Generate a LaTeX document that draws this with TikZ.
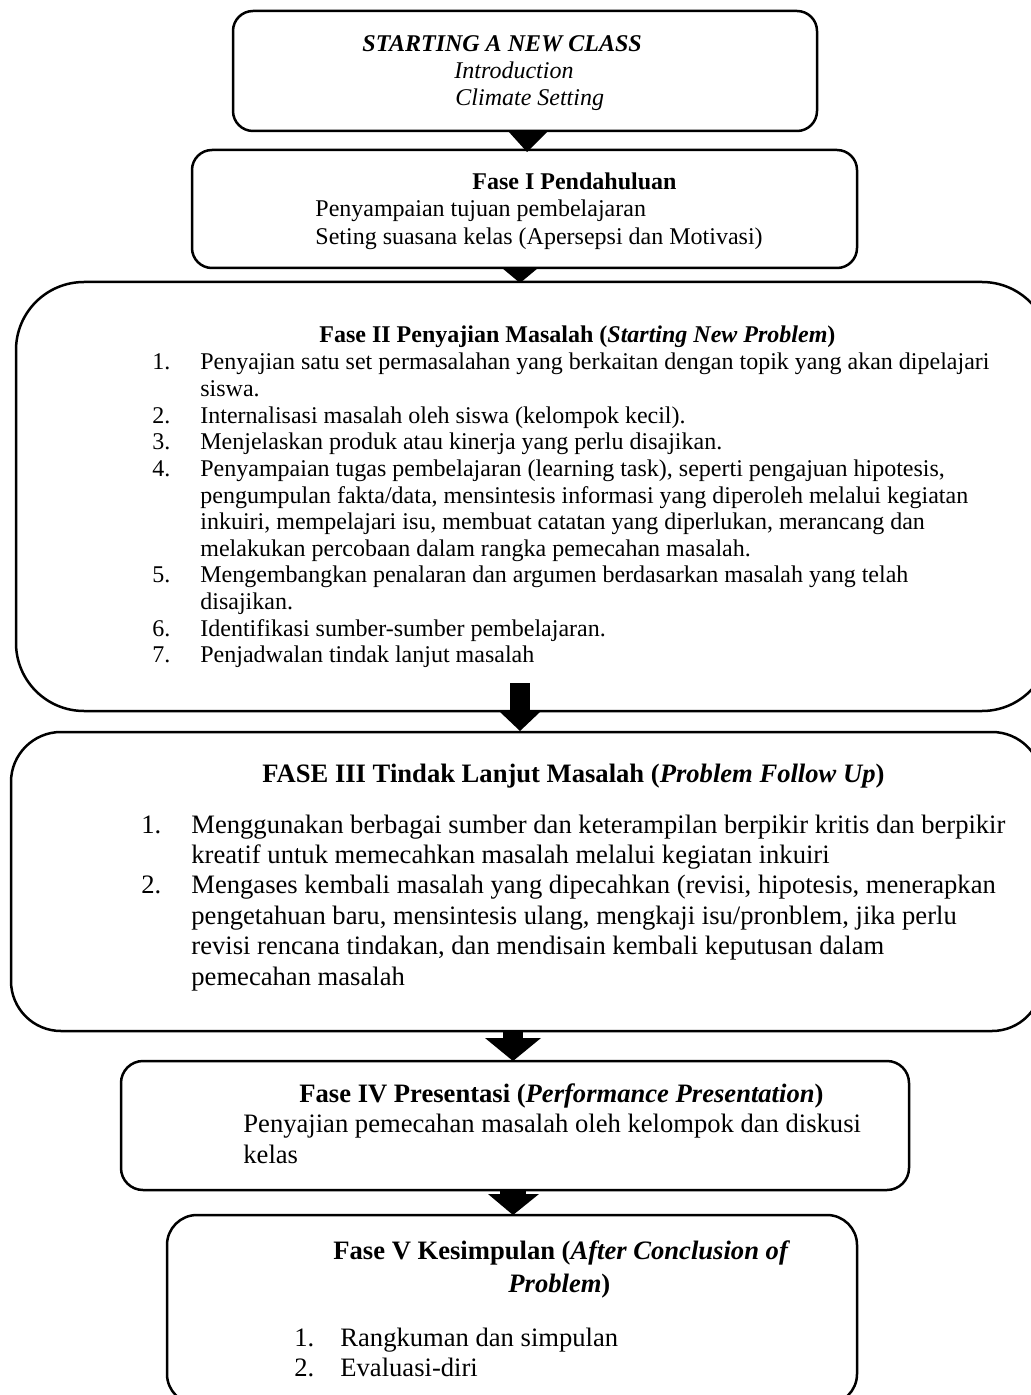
\documentclass[tikz,border=0pt]{standalone}
\usepackage{fontspec}
\setmainfont{Liberation Serif}
\usetikzlibrary{calc}
\newcommand\fsmallx{\fontsize{12}{13.3}\selectfont}
\newcommand\flargex{\fontsize{13.3}{15.2}\selectfont}
\begin{document}
\begin{tikzpicture}[x=0.5pt,y=-0.5pt,
  boxx/.style={draw, line width=1.25pt, anchor=north west, inner sep=0pt, outer sep=0pt},
  tsm/.style={anchor=base west, inner sep=0pt, font=\fsmallx},
  tlg/.style={anchor=base west, inner sep=0pt, font=\flargex},
  blk/.style={fill=black}]
\path[use as bounding box] (0,0) rectangle (1031,1395);
\clip (0,0) rectangle (1031,1395);
% boxes
\node[boxx, rounded corners=10pt, minimum width=292pt, minimum height=60pt] (b0) at (233,11) {};
\node[boxx, rounded corners=10pt, minimum width=332.5pt, minimum height=59pt] (b1) at (192,150) {};
\node[boxx, rounded corners=34pt, minimum width=517pt, minimum height=214.5pt] (b2) at (16,282) {};
\node[boxx, rounded corners=25pt, minimum width=515.5pt, minimum height=149.5pt] (b3) at (11,732) {};
\node[boxx, rounded corners=11pt, minimum width=394pt, minimum height=64.5pt] (b4) at (121,1061) {};
\node[boxx, rounded corners=15pt, minimum width=345pt, minimum height=94.5pt] (b5) at (167,1215) {};
% arrows
\fill[blk] ($(b0.south)+(-17,0)$) -- ($(b0.south)+(23,0)$) -- ($(b1.north)+(2.5,2)$) -- cycle;
\fill[blk] ($(b1.south)+(-22.5,0)$) -- ($(b1.south)+(13.5,0)$) -- ($(b2.north)+(-13,1)$) -- cycle;
\fill[blk] ($(b2.south)+(-23,-28)$) rectangle ($(b2.south)+(-3,1)$);
\fill[blk] ($(b2.south)+(-33,1)$) -- ($(b2.south)+(7,1)$) -- ($(b3.north)+(-6.5,-1)$) -- cycle;
\fill[blk] ($(b3.south)+(-23.5,0)$) rectangle ($(b3.south)+(-3.5,7)$);
\fill[blk] ($(b3.south)+(-41.5,7)$) -- ($(b3.south)+(14.5,7)$) -- ($(b4.north)+(-2,0)$) -- cycle;
\fill[blk] ($(b4.south)+(-15,0)$) rectangle ($(b4.south)+(11,4)$);
\fill[blk] ($(b4.south)+(-27,4)$) -- ($(b4.south)+(24,4)$) -- ($(b5.north)+(1,0)$) -- cycle;
% box 0
\node[tsm] (t0a) at (362,52) {\textbf{\textit{STARTING A NEW CLASS}}};
\node[tsm] (t0b) at (454,79) {\textit{Introduction}};
\node[tsm] (t0c) at (455,106) {\textit{Climate Setting}};
% box 1
\node[tsm] (t1a) at (472,190) {\textbf{Fase I Pendahuluan}};
\node[tsm] (t1b) at (315,217) {Penyampaian tujuan pembelajaran};
\node[tsm] (t1c) at (315,245) {Seting suasana kelas (Apersepsi dan Motivasi)};
% box 2
\node[tsm] (t2h) at (319,343) {\textbf{Fase II Penyajian Masalah (\textit{Starting New Problem})}};
\node[tsm] (n21) at (152,370) {1.};
\node[tsm] (l21) at (200,370) {Penyajian satu set permasalahan yang berkaitan dengan topik yang akan dipelajari};
\node[tsm] (l22) at (200,396.6) {siswa.};
\node[tsm] (n22) at (152,423.2) {2.};
\node[tsm] (l23) at (200,423.2) {Internalisasi masalah oleh siswa (kelompok kecil).};
\node[tsm] (n23) at (152,449.8) {3.};
\node[tsm] (l24) at (200,449.8) {Menjelaskan produk atau kinerja yang perlu disajikan.};
\node[tsm] (n24) at (152,476.4) {4.};
\node[tsm] (l25) at (200,476.4) {Penyampaian tugas pembelajaran (learning task), seperti pengajuan hipotesis,};
\node[tsm] (l26) at (200,503) {pengumpulan fakta/data, mensintesis informasi yang diperoleh melalui kegiatan};
\node[tsm] (l27) at (200,529.6) {inkuiri, mempelajari isu, membuat catatan yang diperlukan, merancang dan};
\node[tsm] (l28) at (200,556.2) {melakukan percobaan dalam rangka pemecahan masalah.};
\node[tsm] (n25) at (152,582.8) {5.};
\node[tsm] (l29) at (200,582.8) {Mengembangkan penalaran dan argumen berdasarkan masalah yang telah};
\node[tsm] (l2a) at (200,609.4) {disajikan.};
\node[tsm] (n26) at (152,636) {6.};
\node[tsm] (l2b) at (200,636) {Identifikasi sumber-sumber pembelajaran.};
\node[tsm] (n27) at (152,662.6) {7.};
\node[tsm] (l2c) at (200,662.6) {Penjadwalan tindak lanjut masalah};
% box 3
\node[tlg] (t3h) at (262,782) {\textbf{FASE III Tindak Lanjut Masalah (\textit{Problem Follow Up})}};
\node[tlg] (n31) at (141,833) {1.};
\node[tlg] (l31) at (191,833) {Menggunakan berbagai sumber dan keterampilan berpikir kritis dan berpikir};
\node[tlg] (l32) at (191,863.4) {kreatif untuk memecahkan masalah melalui kegiatan inkuiri};
\node[tlg] (n32) at (141,893.8) {2.};
\node[tlg] (l33) at (191,893.8) {Mengases kembali masalah yang dipecahkan (revisi, hipotesis, menerapkan};
\node[tlg] (l34) at (191,924.2) {pengetahuan baru, mensintesis ulang, mengkaji isu/pronblem, jika perlu};
\node[tlg] (l35) at (191,954.6) {revisi rencana tindakan, dan mendisain kembali keputusan dalam};
\node[tlg] (l36) at (191,985) {pemecahan masalah};
% box 4
\node[tlg] (t4h) at (299,1102) {\textbf{Fase IV Presentasi (\textit{Performance Presentation})}};
\node[tlg] (l41) at (243,1132) {Penyajian pemecahan masalah oleh kelompok dan diskusi};
\node[tlg] (l42) at (243,1163) {kelas};
% box 5
\node[tlg] (t5h) at (333,1259) {\textbf{Fase V Kesimpulan (\textit{After Conclusion of}}};
\node[tlg] (t5i) at (508,1292) {\textbf{\textit{Problem})}};
\node[tlg] (n51) at (294,1346) {1.};
\node[tlg] (l51) at (340,1346) {Rangkuman dan simpulan};
\node[tlg] (n52) at (294,1376) {2.};
\node[tlg] (l52) at (340,1376) {Evaluasi-diri};
\end{tikzpicture}
\end{document}
